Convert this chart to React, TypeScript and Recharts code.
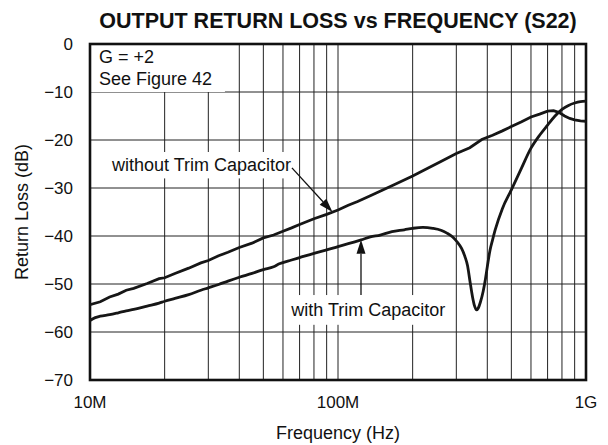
import React from 'react';
import {
  LineChart,
  Line,
  XAxis,
  YAxis,
  CartesianGrid,
  ReferenceArea,
  ReferenceLine,
  Label,
} from 'recharts';

// ---- data ----
const freqTicksHz = [
  1e7, 2e7, 3e7, 4e7, 5e7, 6e7, 7e7, 8e7, 9e7,
  1e8, 2e8, 3e8, 4e8, 5e8, 6e8, 7e8, 8e8, 9e8, 1e9,
];
const freqTickLabels: Record<number, string> = { 10000000: '10M', 100000000: '100M', 1000000000: '1G' };
const dbTicks = [-70, -60, -50, -40, -30, -20, -10, 0];

const noTrimFreqMHz = [
  10, 11, 12, 13, 14, 15, 17, 19, 20, 22, 25, 28, 30, 33, 36, 40, 45, 50, 55, 60, 65, 70, 80, 90,
  100, 110, 120, 135, 150, 170, 200, 230, 260, 300, 340, 380, 420, 460, 500, 550, 600, 650, 700,
  740, 780, 820, 860, 900, 950, 1000,
];
const noTrimDb = [
  -54.3, -53.7, -52.7, -52.1, -51.3, -50.9, -49.9, -48.9, -48.7, -47.8, -46.7, -45.6, -45.1, -44.1,
  -43.4, -42.4, -41.5, -40.4, -39.8, -39.0, -38.3, -37.6, -36.4, -35.5,
  -34.6, -33.6, -32.8, -31.6, -30.5, -29.2, -27.5, -25.9, -24.5, -22.8, -21.6, -19.9, -19.0, -18.1,
  -17.2, -16.2, -15.2, -14.6, -14.0, -13.9, -14.3, -15.0, -15.5, -15.8, -16.0, -16.1,
];

const trimFreqMHz = [
  10, 10.5, 11, 12, 13, 14, 15, 17, 19, 20, 22, 25, 28, 30, 33, 36, 40, 45, 50, 55, 58, 65, 70, 80,
  90, 100, 110, 124, 135, 148, 165, 185, 200, 220, 241, 260, 275, 290, 302, 315, 325, 333, 340, 349,
  355, 362, 368, 375, 385, 393, 400, 410, 420, 430, 460, 500, 550, 600, 650, 700, 750, 800, 850, 900,
  950, 1000,
];
const trimDb = [
  -57.6, -57.0, -56.7, -56.4, -56.0, -55.6, -55.3, -54.6, -54.0, -53.6, -53.0, -52.2, -51.3, -50.8,
  -50.1, -49.4, -48.6, -47.8, -47.0, -46.4, -45.8, -45.0, -44.5, -43.6,
  -42.9, -42.2, -41.6, -40.8, -40.2, -39.8, -39.1, -38.7, -38.4, -38.2, -38.4, -38.8, -39.4, -40.2,
  -41.2, -42.6, -44.3, -46.2, -49.2, -52.8,
  -54.5, -55.4, -55.0, -53.8, -51.5, -49.0, -46.4, -43.0, -40.8, -38.8, -34.3, -30.4, -25.8, -21.7,
  -19.0, -16.9, -15.0, -13.6, -12.8, -12.3,
  -12.0, -11.9,
];

const noTrimData = noTrimFreqMHz.map((f, i) => ({ f: f * 1e6, db: noTrimDb[i] }));
const trimData = trimFreqMHz.map((f, i) => ({ f: f * 1e6, db: trimDb[i] }));

const FONT = '"Liberation Sans", Arial, Helvetica, sans-serif';

const textBox = (lines: string[], align: 'start' | 'middle', padX: number, lineGap: number) =>
  (props: any) => {
    const { x, y, width, height } = props;
    const n = lines.length;
    const cy = y + height / 2;
    return (
      <g>
        <rect x={x} y={y} width={width} height={height} fill="#fff" stroke="none" />
        {lines.map((t, i) => (
          <text
            key={i}
            x={align === 'start' ? x + padX : x + width / 2}
            y={cy + (i - (n - 1) / 2) * lineGap}
            textAnchor={align}
            dominantBaseline="central"
            fontFamily={FONT}
            fontSize={18}
            fill="#111"
          >
            {t}
          </text>
        ))}
      </g>
    );
  };

const arrowShape = (props: any) => {
  const { x1, y1, x2, y2 } = props;
  const dx = x2 - x1;
  const dy = y2 - y1;
  const len = Math.sqrt(dx * dx + dy * dy) || 1;
  const ux = dx / len;
  const uy = dy / len;
  const hl = 14;
  const hw = 4.5;
  const bx = x2 - ux * hl;
  const by = y2 - uy * hl;
  const px = -uy * hw;
  const py = ux * hw;
  return (
    <g>
      <line x1={x1} y1={y1} x2={bx} y2={by} stroke="#111" strokeWidth={1.3} />
      <polygon points={`${x2},${y2} ${bx + px},${by + py} ${bx - px},${by - py}`} fill="#111" />
    </g>
  );
};

const frameShape = (props: any) => {
  const { x, y, width, height } = props;
  return <rect x={x} y={y} width={width} height={height} fill="none" stroke="#111" strokeWidth={2.6} />;
};

const fmtDb = (v: number) => (v < 0 ? '\u2212' + Math.abs(v) : String(v));

export default function App() {
  return (
    <div style={{ position: 'fixed', left: 0, top: 0, width: 608, height: 445, background: '#fff' }}>
      <div
        style={{
          position: 'absolute',
          left: 60,
          width: 556,
          top: 8,
          textAlign: 'center',
          fontFamily: FONT,
          fontWeight: 'bold',
          fontSize: 21.5,
          lineHeight: '26px',
          color: '#111',
          whiteSpace: 'nowrap',
        }}
      >
        OUTPUT RETURN LOSS vs FREQUENCY (S22)
      </div>
      <LineChart width={608} height={445} margin={{ top: 44, right: 22, left: 0, bottom: 0 }}>
        <CartesianGrid stroke="#222" strokeWidth={1} />
        <XAxis
          dataKey="f"
          type="number"
          scale="log"
          domain={[1e7, 1e9]}
          ticks={freqTicksHz}
          allowDataOverflow
          height={65}
          tickLine={false}
          axisLine={false}
          tickSize={0}
          tickMargin={16}
          interval={0}
          tickFormatter={(v: number) => freqTickLabels[v] || ''}
          tick={{ fill: '#111', fontSize: 17, fontFamily: FONT }}
        >
          <Label
            value="Frequency (Hz)"
            position="insideBottom"
            offset={6}
            style={{ fill: '#111', fontSize: 18, fontFamily: FONT }}
          />
        </XAxis>
        <YAxis
          type="number"
          domain={[-70, 0]}
          ticks={dbTicks}
          width={90}
          tickLine={false}
          axisLine={false}
          tickSize={0}
          tickMargin={17}
          interval={0}
          tickFormatter={fmtDb}
          tick={{ fill: '#111', fontSize: 17, fontFamily: FONT }}
          label={{
            content: (p: any) => {
              const vb = p.viewBox || { y: 44, height: 336 };
              const cx = 22;
              const cy = vb.y + vb.height / 2;
              return (
                <text
                  x={cx}
                  y={cy}
                  transform={`rotate(-90 ${cx} ${cy})`}
                  textAnchor="middle"
                  dominantBaseline="central"
                  fontFamily={FONT}
                  fontSize={18}
                  fill="#111"
                >
                  Return Loss (dB)
                </text>
              );
            },
          }}
        />
        <ReferenceArea
          x1={1e7}
          x2={3.5e7}
          y1={-10}
          y2={0}
          shape={textBox(['G = +2', 'See Figure 42'], 'start', 9, 22)}
        />
        <ReferenceArea
          x1={1.15e7}
          x2={6.9e7}
          y1={-28}
          y2={-22.5}
          shape={textBox(['without Trim Capacitor'], 'middle', 0, 0)}
        />
        <ReferenceArea
          x1={6.1e7}
          x2={2.88e8}
          y1={-58.5}
          y2={-52.3}
          shape={textBox(['with Trim Capacitor'], 'middle', 0, 0)}
        />
        <ReferenceLine
          segment={[
            { x: 6.52e7, y: -25.8 },
            { x: 9.5e7, y: -35.0 },
          ]}
          shape={arrowShape}
        />
        <ReferenceLine
          segment={[
            { x: 1.238e8, y: -52.3 },
            { x: 1.238e8, y: -40.8 },
          ]}
          shape={arrowShape}
        />
        <Line
          data={noTrimData}
          dataKey="db"
          type="linear"
          stroke="#161616"
          strokeWidth={2.8}
          dot={false}
          activeDot={false}
          isAnimationActive={false}
        />
        <Line
          data={trimData}
          dataKey="db"
          type="monotone"
          stroke="#161616"
          strokeWidth={2.8}
          dot={false}
          activeDot={false}
          isAnimationActive={false}
        />
        <ReferenceArea x1={1e7} x2={1e9} y1={-70} y2={0} shape={frameShape} />
      </LineChart>
    </div>
  );
}
